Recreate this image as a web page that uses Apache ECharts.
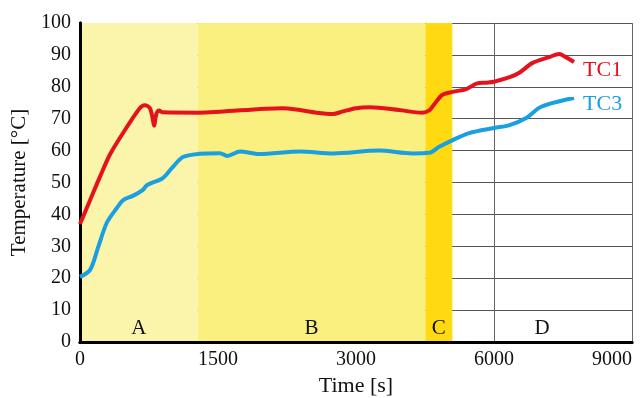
<!DOCTYPE html>
<html>
<head>
<meta charset="utf-8">
<script src="https://cdn.jsdelivr.net/npm/echarts@6/dist/echarts.min.js"></script>
<style>
  html, body { margin: 0; padding: 0; background: #fff; }
  #chart { width: 642px; height: 398px; }
</style>
</head>
<body>
<div id="chart"></div>
<script>
// x positions are in plotted axis units (evenly spaced ticks, labels below)
var X_TICK_LABELS = ['0', '1500', '3000', '6000', '9000'];
var Y_TICKS_STEP = 10;

var TC1 = [[0,37],[110,44.5],[220,52],[330,59],[510,67.4],[650,73.3],[705,74.2],[760,73.3],[790,70],[805,67.8],[830,71.5],[860,72.6],[900,72],[1300,71.9],[1520,72.2],[2200,73.3],[2390,72.7],[2570,71.9],[2750,71.5],[2850,72.2],[3000,73.3],[3150,73.6],[3470,72.7],[3720,71.9],[3800,72.7],[3850,74.5],[3940,77.5],[4050,78.4],[4200,79.3],[4310,81],[4420,81.3],[4500,81.6],[4670,83],[4780,84.5],[4920,87.5],[5100,89.3],[5210,90.3],[5280,89.3],[5370,87.8]];
var TC3 = [[0,20.4],[110,22.6],[195,29.5],[290,37.3],[400,42],[470,44.5],[575,45.8],[680,47.6],[730,49.2],[900,51.4],[1010,54.9],[1120,58],[1300,59.0],[1520,59.2],[1600,58.3],[1740,59.7],[1950,58.9],[2390,59.7],[2750,59.1],[3250,60],[3610,59.1],[3800,59.3],[3900,61.1],[4050,63.3],[4230,65.5],[4500,67.1],[4670,68],[4850,70.2],[4990,73.4],[5130,74.9],[5370,76.5]];

var STAGES = ['A', 'B', 'C', 'D'];
var STAGE_EDGES = [0, 1280, 3754, 4047, 6000];
var STAGE_COLORS = ['#fbf4ab', '#faf080', '#ffd912', 'rgba(255,255,255,0)'];

var FONT = '"Liberation Serif", "DejaVu Serif", serif';

var bands = [];
for (var i = 0; i < STAGES.length; i++) {
    bands.push([
        { name: STAGES[i], xAxis: STAGE_EDGES[i], yAxis: 0, itemStyle: { color: STAGE_COLORS[i] } },
        { xAxis: STAGE_EDGES[i + 1], yAxis: 100 }
    ]);
}

var chart = echarts.init(document.getElementById('chart'));
chart.setOption({
    animation: false,
    grid: { left: 80, right: 10, top: 23, bottom: 56, outerBoundsMode: 'none', containLabel: false },
    xAxis: [
        {
            type: 'value', min: 0, max: 6000, interval: 1500, z: 1,
            name: 'Time [s]', nameLocation: 'middle', nameGap: 33,
            nameTextStyle: { fontFamily: FONT, fontSize: 22, color: '#111' },
            axisLine: { lineStyle: { color: '#000', width: 3 } },
            axisTick: { show: false },
            axisLabel: {
                fontFamily: FONT, fontSize: 20, color: '#111', margin: 8,
                alignMaxLabel: 'right', hideOverlap: false,
                formatter: function (v) { return X_TICK_LABELS[Math.round(v / 1500)]; }
            },
            splitLine: { show: true, lineStyle: { color: '#666', width: 1 } }
        },
        {
            type: 'value', min: 0, max: 6000, position: 'top', z: 1,
            axisLine: { show: true, lineStyle: { color: '#000', width: 3 } },
            axisTick: { show: false }, axisLabel: { show: false }, splitLine: { show: false }
        }
    ],
    yAxis: [
        {
            type: 'value', min: 0, max: 100, interval: Y_TICKS_STEP, z: 1,
            name: 'Temperature [°C]', nameLocation: 'middle', nameGap: 47,
            nameTextStyle: { fontFamily: FONT, fontSize: 21, color: '#111' },
            axisLine: { show: true, lineStyle: { color: '#000', width: 3 } },
            axisTick: { show: false },
            axisLabel: { fontFamily: FONT, fontSize: 20, color: '#111', margin: 9 },
            splitLine: { show: true, lineStyle: { color: '#555', width: 1 } }
        },
        {
            type: 'value', min: 0, max: 100, position: 'right', z: 1,
            axisLine: { show: true, lineStyle: { color: '#000', width: 3 } },
            axisTick: { show: false }, axisLabel: { show: false }, splitLine: { show: false }
        }
    ],
    series: [
        {
            name: 'stages', type: 'line', z: 0, data: [], silent: true,
            markArea: {
                silent: true,
                label: {
                    show: true, position: 'insideBottom', distance: 3,
                    fontFamily: FONT, fontSize: 21, color: '#111'
                },
                data: bands
            }
        },
        {
            name: 'TC1', type: 'line', z: 3, data: TC1, smooth: 0.3, symbol: 'none',
            lineStyle: { color: '#e3121c', width: 4 },
            endLabel: {
                show: true, formatter: '{a}', distance: 9, offset: [0, 8],
                fontFamily: FONT, fontSize: 22, color: '#e3121c'
            }
        },
        {
            name: 'TC3', type: 'line', z: 3, data: TC3, smooth: 0.3, symbol: 'none',
            lineStyle: { color: '#1a9fe0', width: 4 },
            endLabel: {
                show: true, formatter: '{a}', distance: 9, offset: [0, 6],
                fontFamily: FONT, fontSize: 22, color: '#1a9fe0'
            }
        }
    ]
});
</script>
</body>
</html>
